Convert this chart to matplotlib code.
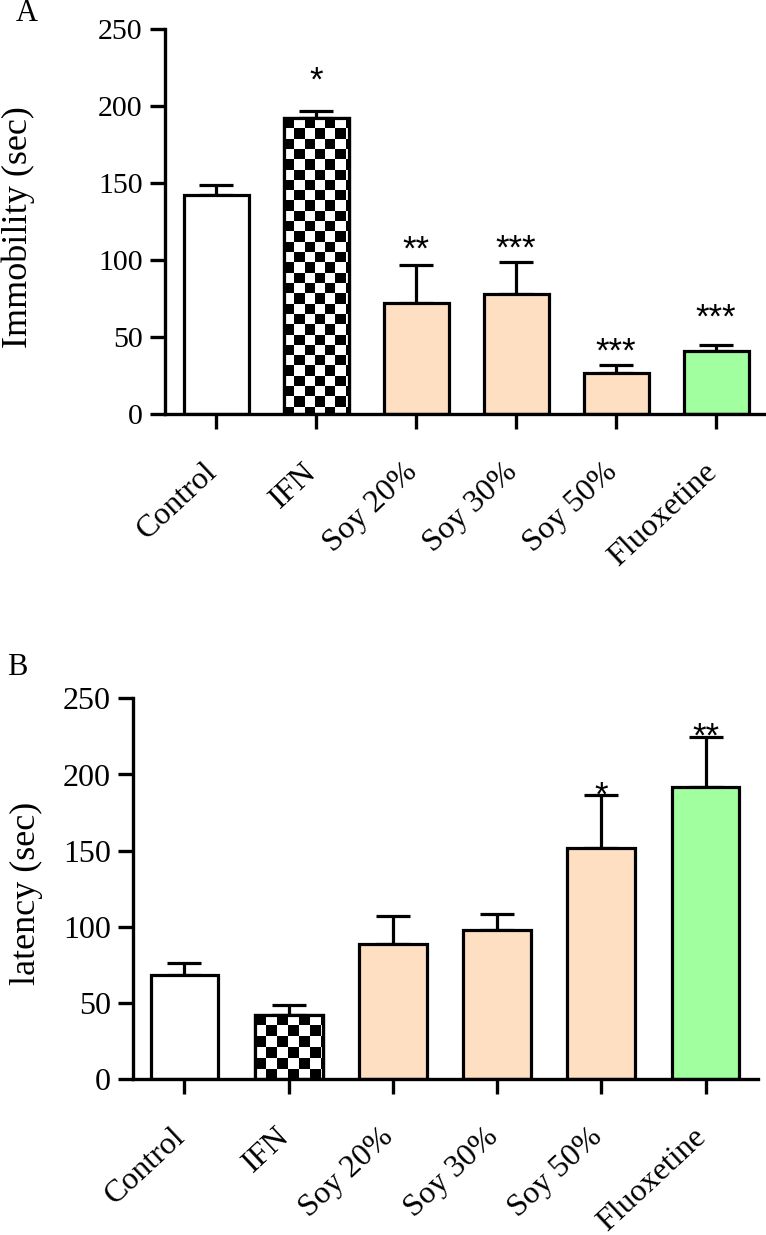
import numpy as np
import matplotlib.pyplot as plt
import matplotlib.transforms as mtransforms

groups = ['Control', 'IFN', 'Soy 20%', 'Soy 30%', 'Soy 50%', 'Fluoxetine']

# panel A - immobility
immobility = [142, 192, 72, 78, 26.5, 41]
immobility_err = [6.5, 5, 25, 20.5, 5.5, 4]
immobility_sig = ['', '*', '**', '***', '***', '***']
immobility_sig_y = [0, 210, 100, 101, 34, 56]

# panel B - latency
latency = [68.5, 42.5, 88.5, 98, 151.5, 191.5]
latency_err = [7.5, 6.5, 18.5, 10.5, 35, 33]
latency_sig = ['', '', '', '', '*', '**']
latency_sig_y = [0, 0, 0, 0, 179.5, 218]

PEACH = '#FFDFC1'
GREEN = '#A2FFA0'
colors = ['white', 'white', PEACH, PEACH, PEACH, GREEN]

SERIF = 'Liberation Serif'
SANS = 'Liberation Sans'
LW = 2.3


def checker(ax, bar, cell_px):
    # checkerboard fill for the IFN bar, clipped to the bar outline
    p0 = ax.transData.transform((0, 0))
    p1 = ax.transData.transform((1, 1))
    sx, sy = p1[0] - p0[0], p1[1] - p0[1]
    x0, w, h = bar.get_x(), bar.get_width(), bar.get_height()
    ncol = int(np.ceil(w * sx / cell_px))
    nrow = int(np.ceil(h * sy / cell_px))
    board = np.indices((nrow, ncol)).sum(axis=0) % 2
    ext = [x0, x0 + ncol * cell_px / sx, h - nrow * cell_px / sy, h]
    im = ax.imshow(board, cmap='gray', origin='upper', extent=ext,
                   interpolation='nearest', aspect='auto', zorder=2.5)
    im.set_clip_path(bar)


def panel(ax, vals, errs, sig, sig_y, tick_fs, cell_px, xlim, xpad):
    x = np.arange(len(groups))
    ax.set_xlim(*xlim)
    ax.set_ylim(0, 250)
    bars = ax.bar(x, vals, width=0.65, color=colors, edgecolor='black',
                  linewidth=LW, zorder=2)
    ax.errorbar(x, vals, yerr=[np.zeros(len(vals)), errs], fmt='none',
                ecolor='black', elinewidth=LW, capsize=12, capthick=LW,
                zorder=1.5)
    checker(ax, bars[1], cell_px)
    ax.bar(x[1], vals[1], width=0.65, fill=False, edgecolor='black',
           linewidth=LW, zorder=3)
    ax.set_xlim(*xlim)
    ax.set_ylim(0, 250)

    for xi, s, sy in zip(x, sig, sig_y):
        if s:
            ax.text(xi, sy, s, ha='center', va='baseline', fontsize=25,
                    family=SANS)

    for side in ['top', 'right']:
        ax.spines[side].set_visible(False)
    for side in ['left', 'bottom']:
        ax.spines[side].set_linewidth(2.4)
    ax.set_yticks(np.arange(0, 251, 50))
    ax.tick_params(length=11, width=2.4, direction='out')
    ax.tick_params(axis='y', labelsize=tick_fs, pad=5)
    ax.tick_params(axis='x', pad=xpad)
    for t in ax.get_yticklabels():
        t.set_family(SERIF)
    ax.set_xticks(x)
    ax.set_xticklabels(groups, rotation=43, ha='right', va='baseline',
                       rotation_mode='anchor', fontsize=23, family=SERIF)
    shift = mtransforms.ScaledTranslation(2 / 100, 0, ax.figure.dpi_scale_trans)
    for t in ax.get_xticklabels():
        t.set_transform(t.get_transform() + shift)


W, H = 766, 1235
fig = plt.figure(figsize=(W / 100, H / 100), dpi=100)

axA = fig.add_axes([165 / W, 1 - 414 / H, 601 / W, 385 / H])
panel(axA, immobility, immobility_err, immobility_sig, immobility_sig_y,
      21.5, 10.3, (-0.51, 5.5), 32)

axB = fig.add_axes([133 / W, 1 - 1079.3 / H, 624.7 / W, 381 / H])
panel(axB, latency, latency_err, latency_sig, latency_sig_y,
      23, 11, (-0.494, 5.5), 31.5)

fig.text(18 / W, 1 - 227.5 / H, 'Immobility (sec)', rotation=90,
         ha='center', va='center', fontsize=26, family=SERIF)
fig.text(26 / W, 1 - 893.5 / H, 'latency (sec)', rotation=90,
         ha='center', va='center', fontsize=26, family=SERIF)
fig.text(27 / W, 1 - 13.5 / H, 'A', ha='center', va='center', fontsize=22,
         family=SERIF)
fig.text(17 / W, 1 - 667.5 / H, 'B', ha='center', va='center', fontsize=22,
         family=SERIF)

fig.savefig('out.png', dpi=100)
